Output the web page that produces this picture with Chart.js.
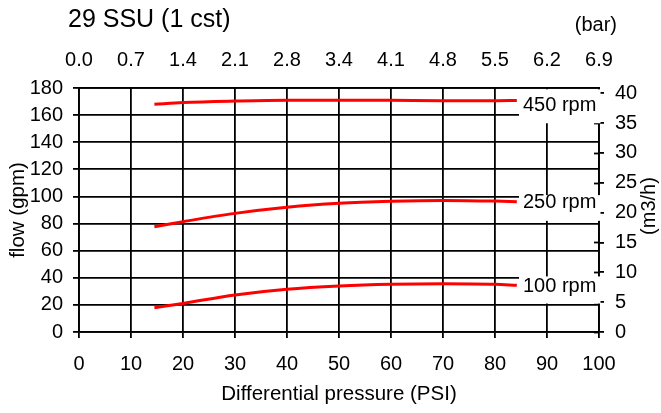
<!DOCTYPE html>
<html>
<head>
<meta charset="utf-8">
<script src="https://cdn.jsdelivr.net/npm/chart.js@4.4.1/dist/chart.umd.min.js"></script>
<style>
    html, body { margin: 0; padding: 0; background: #fff; }
    #wrap { width: 661px; height: 413px; position: relative; }
</style>
</head>
<body>
<div id="wrap"><canvas id="pumpChart"></canvas></div>
<script>
// Pressure points (PSI) where the curves were read
const psi = [14.5, 20, 30, 40, 50, 60, 70, 80, 84.2];

// Flow (gpm) per speed
const flow450 = [168, 169.3, 170.4, 171, 171, 170.9, 170.6, 170.6, 170.8];
const flow250 = [77.7, 81.4, 87.5, 92, 94.9, 96.4, 97.1, 96.6, 96.1];
const flow100 = [17.9, 21.1, 27.3, 31.5, 33.9, 35.2, 35.6, 35.2, 34.4];

// Curve labels and top axis labels
const rpmLabels = ['450 rpm', '250 rpm', '100 rpm'];
const barTicks = ['0.0', '0.7', '1.4', '2.1', '2.8', '3.4', '4.1', '4.8', '5.5', '6.2', '6.9'];

const M3H_PER_GPM = 0.22712;
const FONT = '"Liberation Sans", Arial, sans-serif';

document.addEventListener('DOMContentLoaded', function() {
    const ctx = document.getElementById('pumpChart').getContext('2d');

    function toPoints(values) {
        return psi.map((p, i) => ({ x: p, y: values[i] }));
    }

    function curve(values) {
        return {
            data: toPoints(values),
            borderColor: '#ff0000',
            borderWidth: 3,
            pointRadius: 0,
            fill: false,
            cubicInterpolationMode: 'monotone'
        };
    }

    // label boxes: text centre and box top/bottom in gpm
    const labelBoxes = [
        { text: rpmLabels[0], at: 167, top: 179, bottom: 154 },
        { text: rpmLabels[1], at: 95.6, top: 101, bottom: 82 },
        { text: rpmLabels[2], at: 33.6, top: 41, bottom: 21 }
    ];

    const decor = {
        id: 'decor',
        beforeDatasetsDraw(chart) {
            // inner half of the right axis tick marks
            const { ctx, chartArea } = chart;
            const y1 = chart.scales.y1;
            ctx.save();
            ctx.strokeStyle = '#000';
            ctx.lineWidth = 1.8;
            y1.ticks.forEach(t => {
                const y = Math.round(y1.getPixelForValue(t.value)) + 0.5;
                ctx.beginPath();
                ctx.moveTo(chartArea.right - 5, y);
                ctx.lineTo(chartArea.right, y);
                ctx.stroke();
            });
            ctx.restore();
        },
        afterDatasetsDraw(chart) {
            const { ctx, chartArea } = chart;
            const y = chart.scales.y;
            ctx.save();
            ctx.font = '20px ' + FONT;
            ctx.textAlign = 'left';
            ctx.textBaseline = 'middle';
            labelBoxes.forEach(b => {
                const top = y.getPixelForValue(b.top);
                const bottom = y.getPixelForValue(b.bottom);
                ctx.fillStyle = '#fff';
                ctx.fillRect(chartArea.right - 80, top, 81.5, bottom - top);
                ctx.fillStyle = '#000';
                ctx.fillText(b.text, chartArea.right - 76, y.getPixelForValue(b.at));
            });
            ctx.restore();
        },
        afterDraw(chart) {
            const { ctx } = chart;
            ctx.save();
            ctx.fillStyle = '#000';
            ctx.textBaseline = 'alphabetic';
            ctx.font = '25px ' + FONT;
            ctx.textAlign = 'left';
            ctx.fillText('29 SSU (1 cst)', 68, 27);
            ctx.font = '20px ' + FONT;
            ctx.textAlign = 'right';
            ctx.fillText('(bar)', 617, 31);
            ctx.translate(649.5, 206);
            ctx.rotate(-Math.PI / 2);
            ctx.textAlign = 'center';
            ctx.textBaseline = 'middle';
            ctx.fillText('(m3/h)', 0, 0);
            ctx.restore();
        }
    };

    const tickFont = { family: FONT, size: 20 };
    const titleFont = { family: FONT, size: 20.5 };
    const gridLine = { color: '#000', lineWidth: 1.8 };

    new Chart(ctx, {
        type: 'line',
        data: {
            datasets: [curve(flow450), curve(flow250), curve(flow100)]
        },
        options: {
            responsive: true,
            maintainAspectRatio: false,
            animation: false,
            layout: { padding: 0 },
            plugins: {
                legend: { display: false },
                tooltip: { enabled: false },
                title: { display: false }
            },
            scales: {
                x: {
                    type: 'linear',
                    position: 'bottom',
                    min: 0,
                    max: 100,
                    ticks: { stepSize: 10, color: '#000', font: tickFont, padding: 14, maxRotation: 0 },
                    grid: { ...gridLine, tickLength: 6 },
                    border: { color: '#000', width: 1.8 },
                    title: {
                        display: true,
                        text: 'Differential pressure (PSI)',
                        color: '#000',
                        font: titleFont,
                        padding: { top: 0, bottom: 6 }
                    },
                    afterFit(s) { s.height = 81; }
                },
                x2: {
                    type: 'linear',
                    position: 'top',
                    min: 0,
                    max: 100,
                    ticks: {
                        stepSize: 10,
                        color: '#000',
                        font: tickFont,
                        padding: 16,
                        maxRotation: 0,
                        callback: (value, index) => barTicks[index]
                    },
                    grid: { drawOnChartArea: false, drawTicks: false },
                    border: { color: '#000', width: 1.8 },
                    afterFit(s) { s.height = 88; }
                },
                y: {
                    type: 'linear',
                    position: 'left',
                    min: 0,
                    max: 180,
                    ticks: { stepSize: 20, color: '#000', font: tickFont, padding: 10 },
                    grid: { ...gridLine, tickLength: 6 },
                    border: { color: '#000', width: 1.8 },
                    title: {
                        display: true,
                        text: 'flow (gpm)',
                        color: '#000',
                        font: titleFont,
                        padding: { top: 6, bottom: 0 }
                    },
                    afterFit(s) { s.width = 79; }
                },
                y1: {
                    type: 'linear',
                    position: 'right',
                    min: 0,
                    max: 180 * M3H_PER_GPM,
                    ticks: { stepSize: 5, includeBounds: false, color: '#000', font: tickFont, padding: 11 },
                    grid: { drawOnChartArea: false, color: '#000', lineWidth: 1.8, tickLength: 5 },
                    border: { color: '#000', width: 1.8 },
                    afterFit(s) { s.width = 62; }
                }
            }
        },
        plugins: [decor]
    });
});
</script>
</body>
</html>
